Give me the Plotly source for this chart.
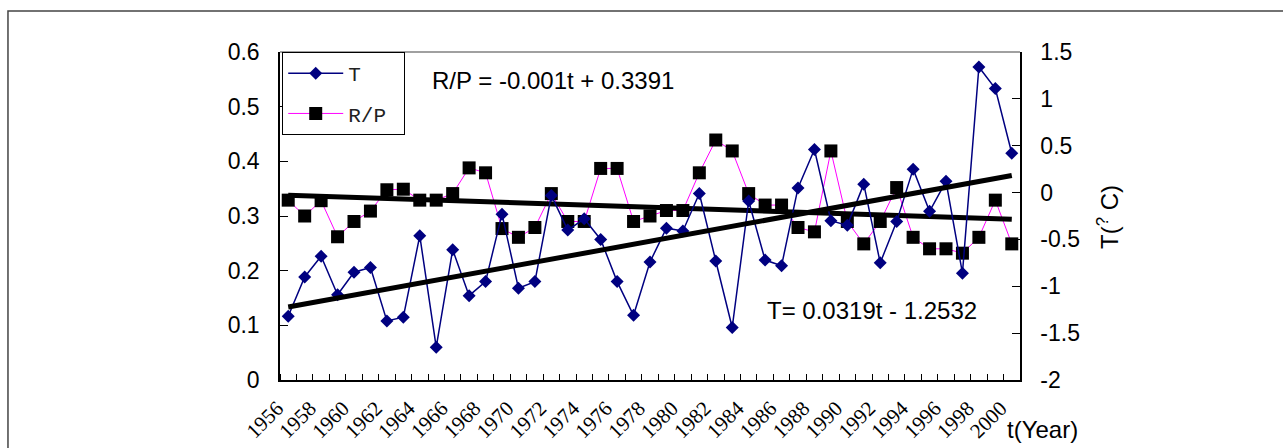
import plotly.graph_objects as go

years = list(range(1956, 2001))
T_vals = [-1.32, -0.90, -0.68, -1.09, -0.85, -0.80, -1.37, -1.33, -0.46, -1.65,
          -0.61, -1.10, -0.95, -0.23, -1.02, -0.95, -0.03, -0.40, -0.28, -0.50,
          -0.95, -1.31, -0.74, -0.38, -0.41, -0.01, -0.73, -1.44, -0.09, -0.72,
          -0.78, 0.05, 0.46, -0.30, -0.35, 0.09, -0.75, -0.31, 0.25, -0.20,
          0.12, -0.86, 1.34, 1.11, 0.42]
RP_vals = [0.329, 0.300, 0.328, 0.262, 0.290, 0.309, 0.348, 0.349, 0.329, 0.329,
           0.341, 0.388, 0.379, 0.277, 0.261, 0.279, 0.341, 0.290, 0.290, 0.387,
           0.387, 0.290, 0.300, 0.310, 0.310, 0.379, 0.439, 0.419, 0.341, 0.320,
           0.320, 0.279, 0.271, 0.419, 0.290, 0.249, 0.290, 0.352, 0.261, 0.240,
           0.240, 0.232, 0.261, 0.329, 0.249]

rp_slope, rp_intercept = -0.001, 0.3391
t_slope, t_intercept = 0.0319, -1.2532

xtick_vals = years[::2]
xtick_text = [str(y) for y in xtick_vals]
left_ticks = [0, 0.1, 0.2, 0.3, 0.4, 0.5, 0.6]
left_text = ["0", "0.1", "0.2", "0.3", "0.4", "0.5", "0.6"]
right_ticks = [-2, -1.5, -1, -0.5, 0, 0.5, 1, 1.5]
right_text = ["-2", "-1.5", "-1", "-0.5", "0", "0.5", "1", "1.5"]

t_idx = [1, len(years)]
rp_trend = [rp_slope * t + rp_intercept for t in t_idx]
t_trend = [t_slope * t + t_intercept for t in t_idx]
trend_x = [years[0], years[-1]]

AX = "Liberation Sans"
fig = go.Figure()
fig.add_trace(go.Scatter(x=years, y=T_vals, name="T", mode="lines+markers", yaxis="y2",
                         line=dict(color="#000080", width=1.5),
                         marker=dict(symbol="diamond", size=10, color="#000080"),
                         legendgroup="a"))
fig.add_trace(go.Scatter(x=years, y=RP_vals, name="R/P\u00a0", mode="lines+markers", yaxis="y",
                         line=dict(color="#FF00FF", width=1),
                         marker=dict(symbol="square", size=13, color="black"),
                         legendgroup="b"))
fig.add_trace(go.Scatter(x=trend_x, y=rp_trend, mode="lines", yaxis="y", showlegend=False,
                         line=dict(color="black", width=5)))
fig.add_trace(go.Scatter(x=trend_x, y=t_trend, mode="lines", yaxis="y2", showlegend=False,
                         line=dict(color="black", width=5)))

fig.update_layout(
    width=1283, height=448,
    margin=dict(l=280, r=263, t=52, b=68, autoexpand=False),
    paper_bgcolor="white", plot_bgcolor="white",
    showlegend=True,
    legend=dict(x=0.003, y=1.0, xanchor="left", yanchor="top",
                bordercolor="black", borderwidth=1, bgcolor="white",
                font=dict(family="Liberation Mono", size=21, color="#222"),
                traceorder="grouped", tracegroupgap=10, itemwidth=55),
    xaxis=dict(range=[1955.5, 2000.5], tickmode="array", tickvals=xtick_vals,
               ticktext=xtick_text, tickangle=-45, ticks="", showgrid=False,
               zeroline=False, showline=True, linecolor="black", linewidth=1.5,
               automargin=False,
               tickfont=dict(family="Liberation Serif", size=21, color="black"),
               ticklabelstandoff=6, ticklabelshift=-11,
               minor=dict(tickmode="linear", tick0=1955.5, dtick=1, ticks="inside",
                          ticklen=6, tickcolor="black", tickwidth=1, showgrid=False)),
    yaxis=dict(range=[0, 0.6], tickmode="array", tickvals=left_ticks, ticktext=left_text,
               ticks="inside", ticklen=8, tickcolor="black", showgrid=False,
               zeroline=False, showline=True, linecolor="black", linewidth=1.5,
               automargin=False,
               tickfont=dict(family=AX, size=23, color="black"), ticklabelstandoff=14),
    yaxis2=dict(range=[-2, 1.5], tickmode="array", tickvals=right_ticks, ticktext=right_text,
                overlaying="y", side="right", ticks="inside", ticklen=8, tickcolor="black",
                showgrid=False, zeroline=False, showline=True, linecolor="black", linewidth=1.5,
                automargin=False,
                tickfont=dict(family=AX, size=23, color="black"), ticklabelstandoff=14),
    shapes=[
        dict(type="line", xref="paper", yref="paper", x0=0, x1=1, y0=1, y1=1,
             line=dict(color="#808080", width=1.5)),
        dict(type="rect", xref="paper", yref="paper", x0=-0.3676, x1=1.4, y0=-0.3, y1=1.125,
             line=dict(color="#444444", width=1.5), layer="below"),
    ],
    annotations=[
        dict(text="R/P = -0.001t + 0.3391", xref="paper", yref="paper", x=0.2027, y=0.9146,
             xanchor="left", yanchor="middle", showarrow=False,
             font=dict(family=AX, size=24, color="black")),
        dict(text="T= 0.0319t - 1.2532", xref="paper", yref="paper", x=0.6554, y=0.2104,
             xanchor="left", yanchor="middle", showarrow=False,
             font=dict(family=AX, size=24, color="black")),
        dict(text="t(Year)", xref="paper", yref="paper", x=0.9797, y=-0.1524,
             xanchor="left", yanchor="middle", showarrow=False,
             font=dict(family=AX, size=24, color="black")),
        dict(text="T(<sup>?</sup> C)", xref="paper", yref="paper", x=1.1189, y=0.497,
             xanchor="center", yanchor="middle", showarrow=False, textangle=-90,
             font=dict(family=AX, size=24, color="black")),
    ],
)

fig.write_html("out.html")
